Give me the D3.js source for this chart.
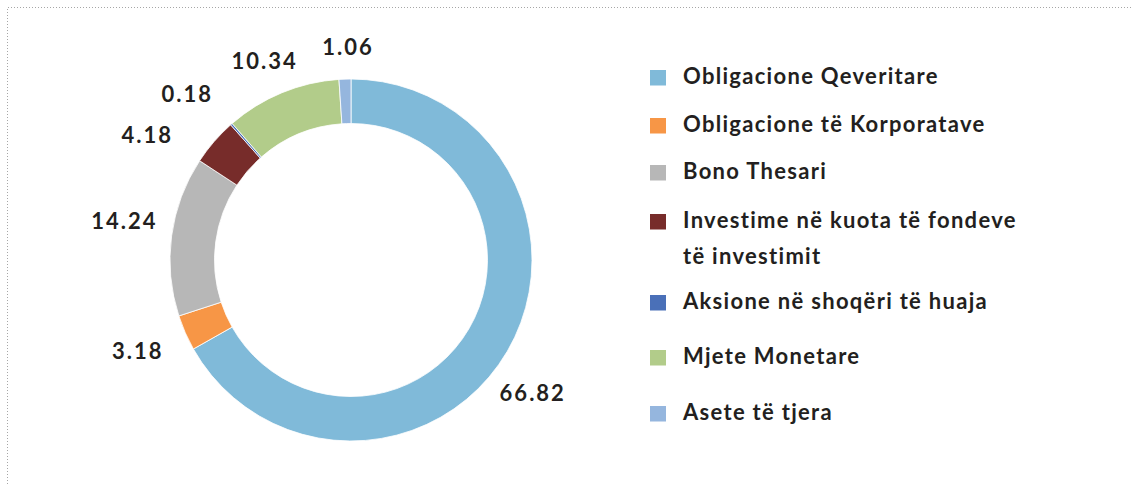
<!DOCTYPE html>
<html>
<head>
<meta charset="utf-8">
<title>Struktura e aseteve</title>
<script src="https://d3js.org/d3.v7.min.js"></script>
<style>
    body { margin: 0; background: #fff; }
    svg text { font-family: Lato, "Open Sans", sans-serif; font-weight: 700; fill: #231f20; }
</style>
</head>
<body>
<svg class="chart"></svg>
<script>
// data
const categories = [
    "Obligacione Qeveritare",
    "Obligacione të Korporatave",
    "Bono Thesari",
    "Investime në kuota të fondeve të investimit",
    "Aksione në shoqëri të huaja",
    "Mjete Monetare",
    "Asete të tjera"
];
const values = [66.82, 3.18, 14.24, 4.18, 0.18, 10.34, 1.06];
const colors = ["#80bad9", "#f79646", "#b7b7b7", "#772c2a", "#4a70b8", "#b2cc8a", "#95b6de"];

// legend text, split where the original wraps
const legendLines = [
    ["Obligacione Qeveritare"],
    ["Obligacione të Korporatave"],
    ["Bono Thesari"],
    ["Investime në kuota të fondeve", "të investimit"],
    ["Aksione në shoqëri të huaja"],
    ["Mjete Monetare"],
    ["Asete të tjera"]
];

var width = 1132, height = 484;
var cx = 351, cy = 260;
var outerR = 181, innerR = 136.5;

// label nudges (degrees, px) to get the same placement as the original
var labelNudge = [[6, -6], [0.6, 5], [2.2, -4], [-9.2, 13], [-3.3, 9], [-1.1, -4], [1.1, 5]];

// legend rows: baselines
var legendY = [84, 132, 179, 228, 309, 364, 420];

var svg = d3.select(".chart")
    .attr("width", width)
    .attr("height", height);

// dotted frame (top and left only are in view)
svg.append("path")
    .attr("d", "M7.5," + height + "V7.5H" + width)
    .attr("fill", "none")
    .attr("stroke", "#a6a6a6")
    .attr("stroke-width", 1)
    .attr("stroke-dasharray", "1,2");

var pie = d3.pie().sort(null).value(function(d){ return d; });
var arc = d3.arc().innerRadius(innerR).outerRadius(outerR);
var arcs = pie(values);

var g = svg.append("g").attr("transform", "translate(" + cx + "," + cy + ")");

g.selectAll(".slice")
    .data(arcs)
    .enter()
    .append("path")
    .attr("class", "slice")
    .attr("d", arc)
    .attr("fill", function(d, i){ return colors[i]; })
    .attr("stroke", "#fff")
    .attr("stroke-width", 0.8);

// value labels outside the ring
var labels = g.selectAll(".lbl")
    .data(arcs)
    .enter()
    .append("text")
    .attr("class", "lbl")
    .attr("text-anchor", "middle")
    .style("font-size", "22px")
    .style("letter-spacing", "2px")
    .text(function(d){ return d3.format(".2f")(d.value); });

labels.each(function(d, i){
    var w = this.getComputedTextLength();
    var a = (d.startAngle + d.endAngle) / 2 + labelNudge[i][0] * Math.PI / 180;
    var s = Math.sin(a), c = -Math.cos(a);
    var r = 200 + Math.abs(s) * w / 2 + Math.abs(c) * 8 + labelNudge[i][1];
    d3.select(this)
        .attr("x", s * r)
        .attr("y", c * r + 8);
});

// legend
var legend = svg.append("g").attr("class", "legend");
var rows = legend.selectAll(".row")
    .data(categories)
    .enter()
    .append("g")
    .attr("class", "row")
    .attr("transform", function(d, i){ return "translate(650," + legendY[i] + ")"; });

rows.append("rect")
    .attr("x", 0)
    .attr("y", -14)
    .attr("width", 16)
    .attr("height", 15.5)
    .attr("fill", function(d, i){ return colors[i]; });

rows.append("text")
    .style("font-size", "22px")
    .style("letter-spacing", "1.3px")
    .selectAll("tspan")
    .data(function(d, i){ return legendLines[i]; })
    .enter()
    .append("tspan")
    .attr("x", 33)
    .attr("y", function(d, j){ return j * 36; })
    .text(function(d){ return d; });
</script>
</body>
</html>
